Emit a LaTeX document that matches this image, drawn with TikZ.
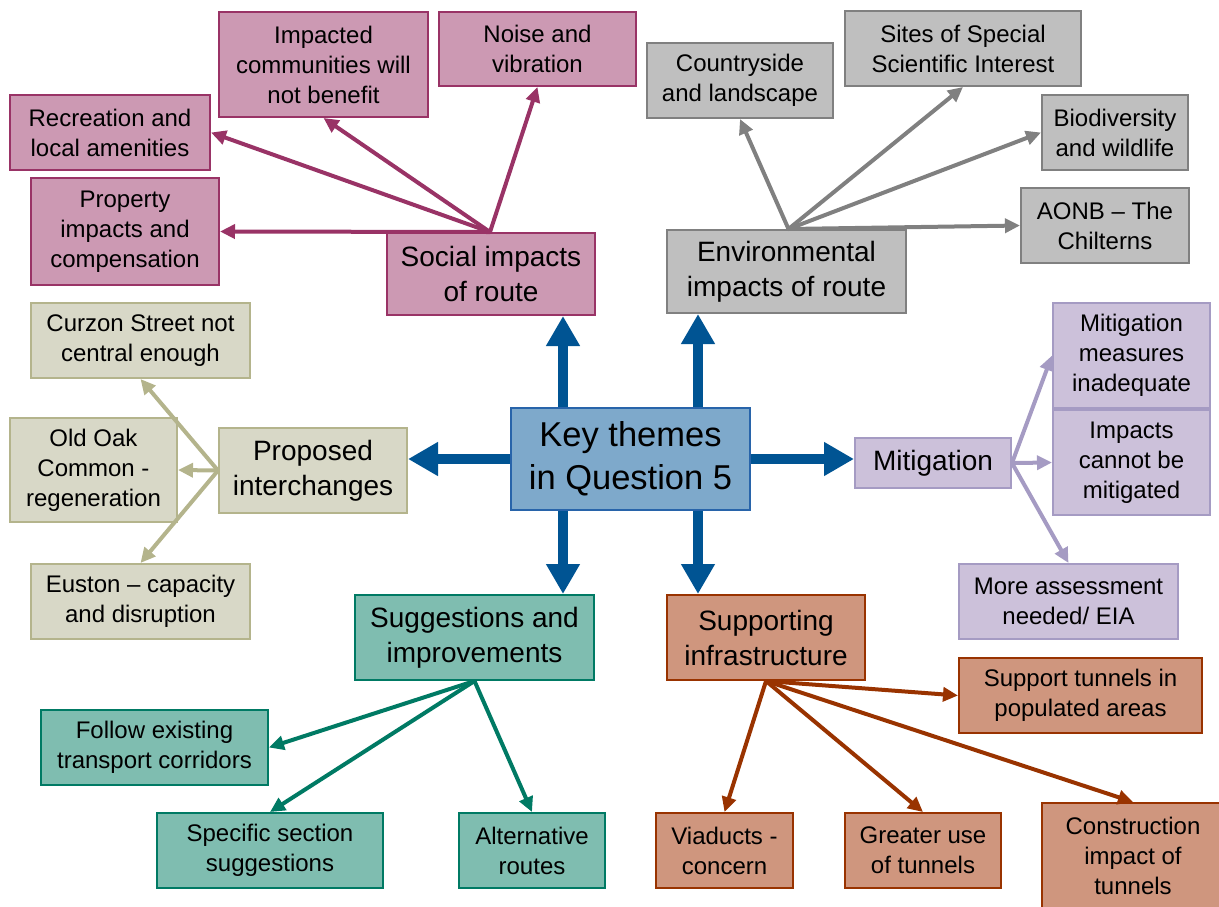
\documentclass[tikz,border=0pt]{standalone}
\usepackage{fontspec}
\setmainfont{Liberation Sans}
\usetikzlibrary{arrows.meta}
\definecolor{keyfill}{RGB}{126,169,203}
\definecolor{keyline}{RGB}{40,100,170}
\definecolor{keyarrow}{RGB}{0,84,147}
\definecolor{socialfill}{RGB}{204,153,179}
\definecolor{socialline}{RGB}{153,51,102}
\definecolor{envfill}{RGB}{191,191,191}
\definecolor{envline}{RGB}{128,128,128}
\definecolor{interfill}{RGB}{216,216,199}
\definecolor{interline}{RGB}{180,180,140}
\definecolor{mitfill}{RGB}{204,193,218}
\definecolor{mitline}{RGB}{165,155,195}
\definecolor{sugfill}{RGB}{127,189,176}
\definecolor{sugline}{RGB}{0,122,100}
\definecolor{supfill}{RGB}{207,150,126}
\definecolor{supline}{RGB}{153,51,0}

\begin{document}
\begin{tikzpicture}[x=1pt, y=-1pt]
  \tikzset{
    box/.style={draw, line width=2pt, align=center, inner sep=0pt,
      font={\fontsize{24}{30}\selectfont}},
    midbox/.style={box, font={\fontsize{28}{35}\selectfont}},
    keybox/.style={box, fill=keyfill, draw=keyline, font={\fontsize{34.5}{43}\selectfont}},
    social/.style={fill=socialfill, draw=socialline},
    env/.style={fill=envfill, draw=envline},
    inter/.style={fill=interfill, draw=interline},
    mit/.style={fill=mitfill, draw=mitline},
    sug/.style={fill=sugfill, draw=sugline},
    sup/.style={fill=supfill, draw=supline},
    link/.style={line width=4pt, -{Triangle[length=15pt,width=14pt]}},
    bigarrow/.style={keyarrow, line width=10pt, -{Triangle[length=30pt,width=32pt]}},
  }
  \useasboundingbox (0,0) rectangle (1219,906);

  % centre
  \node[keybox, minimum width=239pt, minimum height=102pt] (key) at (630.5,459) {Key themes\\in Question 5};

  % social impacts of route
  \node[midbox, social, minimum width=208pt, minimum height=82pt] (socialimp) at (491,274) {Social impacts\\of route};
  \node[box, social, minimum width=200pt, minimum height=75pt] (recreation) at (110,132.5) {Recreation and\\local amenities};
  \node[box, social, minimum width=209pt, minimum height=105pt] (communities) at (323.5,64.5) {Impacted\\communities will\\not benefit};
  \node[box, social, minimum width=197pt, minimum height=74pt] (noise) at (537.5,49) {Noise and\\vibration};
  \node[box, social, minimum width=188pt, minimum height=107pt] (property) at (125,231.5) {Property\\impacts and\\compensation};
  \foreach \n/\a in {recreation/east, communities/south, noise/south, property/east} {
    \draw[link, socialline] ([xshift=-1pt]socialimp.north) -- (\n.\a);
  }

  % environmental impacts of route
  \node[midbox, env, minimum width=239pt, minimum height=83pt] (envimp) at (786.5,271.5) {Environmental\\impacts of route};
  \node[box, env, minimum width=186pt, minimum height=75pt] (countryside) at (740,80.5) {Countryside\\and landscape};
  \node[box, env, minimum width=236pt, minimum height=75pt] (sssi) at (963,48.5) {Sites of Special\\Scientific Interest};
  \node[box, env, minimum width=146pt, minimum height=75pt] (biodiversity) at (1115,132.5) {Biodiversity\\and wildlife};
  \node[box, env, minimum width=168pt, minimum height=75pt] (aonb) at (1105,225.5) {AONB -- The\\Chilterns};
  \foreach \n/\a in {countryside/south, sssi/south, biodiversity/west, aonb/west} {
    \draw[link, envline] ([xshift=2pt]envimp.north) -- (\n.\a);
  }

  % proposed interchanges
  \node[midbox, inter, minimum width=188pt, minimum height=85pt] (interchanges) at (313,470.5) {Proposed\\interchanges};
  \node[box, inter, minimum width=219pt, minimum height=75pt] (curzon) at (140.5,340.5) {Curzon Street not\\central enough};
  \node[box, inter, minimum width=167pt, minimum height=104pt] (oldoak) at (93.5,470) {Old Oak\\Common -\\regeneration};
  \node[box, inter, minimum width=219pt, minimum height=75pt] (euston) at (140.5,601.5) {Euston -- capacity\\and disruption};
  \foreach \n/\a in {curzon/south, oldoak/east, euston/north} {
    \draw[link, interline] (interchanges.west) -- (\n.\a);
  }

  % mitigation
  \node[midbox, mit, minimum width=156pt, minimum height=50pt] (mitigation) at (933,463) {Mitigation};
  \node[box, mit, minimum width=157pt, minimum height=105pt] (inadequate) at (1131.5,355.5) {Mitigation\\measures\\inadequate};
  \node[box, mit, minimum width=157pt, minimum height=105pt] (cannot) at (1131.5,462.5) {Impacts\\cannot be\\mitigated};
  \node[box, mit, minimum width=219pt, minimum height=75pt] (assessment) at (1068.5,601.5) {More assessment\\needed/ EIA};
  \foreach \n/\a in {inadequate/west, cannot/west, assessment/north} {
    \draw[link, mitline] (mitigation.east) -- (\n.\a);
  }

  % suggestions and improvements
  \node[midbox, sug, minimum width=239pt, minimum height=85pt] (suggestions) at (474.5,637.5) {Suggestions and\\improvements};
  \node[box, sug, minimum width=227pt, minimum height=75pt] (corridors) at (154.5,747.5) {Follow existing\\transport corridors};
  \node[box, sug, minimum width=226pt, minimum height=75pt] (specific) at (270,850.5) {Specific section\\suggestions};
  \node[box, sug, minimum width=146pt, minimum height=75pt] (alternative) at (532,850.5) {Alternative\\routes};
  \foreach \n/\a in {corridors/east, specific/north, alternative/north} {
    \draw[link, sugline] (suggestions.south) -- (\n.\a);
  }

  % supporting infrastructure
  \node[midbox, sup, minimum width=198pt, minimum height=85pt] (supporting) at (766,637.5) {Supporting\\infrastructure};
  \node[box, sup, minimum width=243pt, minimum height=75pt] (populated) at (1080.5,695.5) {Support tunnels in\\populated areas};
  \node[box, sup, minimum width=137pt, minimum height=75pt] (viaducts) at (724.5,850.5) {Viaducts -\\concern};
  \node[box, sup, minimum width=156pt, minimum height=75pt] (greater) at (923,850.5) {Greater use\\of tunnels};
  \node[box, sup, minimum width=182pt, minimum height=105pt] (construction) at (1133,855.5) {Construction\\impact of\\tunnels};
  \foreach \n/\a in {populated/west, viaducts/north, greater/north, construction/north} {
    \draw[link, supline] (supporting.south) -- (\n.\a);
  }

  % main arrows
  \draw[bigarrow] ([xshift=-67.5pt]key.north) -- ([xshift=-67.5pt]key.north |- socialimp.south);
  \draw[bigarrow] ([xshift=67.5pt]key.north) -- ([xshift=67.5pt]key.north |- envimp.south);
  \draw[bigarrow] (key.west) -- (key.west -| interchanges.east);
  \draw[bigarrow] (key.east) -- (key.east -| mitigation.west);
  \draw[bigarrow] ([xshift=-67.5pt]key.south) -- ([xshift=-67.5pt]key.south |- suggestions.north);
  \draw[bigarrow] ([xshift=67.5pt]key.south) -- ([xshift=67.5pt]key.south |- supporting.north);
\end{tikzpicture}
\end{document}
